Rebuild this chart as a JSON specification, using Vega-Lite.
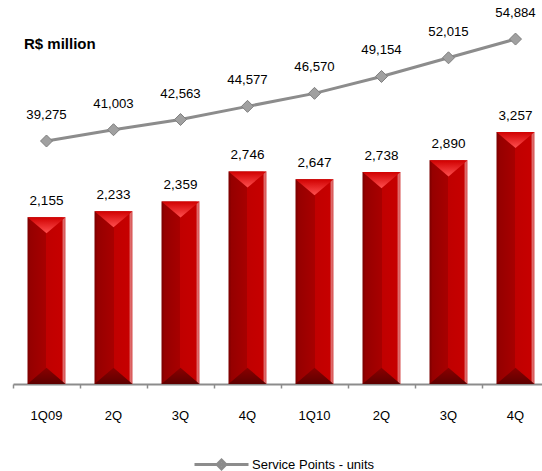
{
  "$schema": "https://vega.github.io/schema/vega-lite/v6.json",
  "autosize": {"type": "none"},
  "padding": {"left": 13, "top": 20, "right": 0, "bottom": 87},
  "width": 529,
  "height": 364,
  "background": "white",
  "title": {
    "text": "R$ million",
    "anchor": "start",
    "frame": "group",
    "orient": "top",
    "font": "Liberation Sans",
    "fontSize": 15,
    "fontWeight": "bold",
    "color": "#000000",
    "baseline": "alphabetic",
    "offset": 0,
    "dx": 11,
    "dy": 58
  },
  "config": {
    "view": {"stroke": null},
    "font": "Liberation Sans",
    "legend": {
      "orient": "none",
      "legendX": 180,
      "legendY": 416,
      "padding": 0,
      "labelFont": "Liberation Sans",
      "labelFontSize": 13,
      "labelColor": "#000000",
      "title": null
    }
  },
  "data": {
    "values": [
      {"q": "1Q09", "revenue": 2155, "points": 39275},
      {"q": "2Q09", "revenue": 2233, "points": 41003},
      {"q": "3Q09", "revenue": 2359, "points": 42563},
      {"q": "4Q09", "revenue": 2746, "points": 44577},
      {"q": "1Q10", "revenue": 2647, "points": 46570},
      {"q": "2Q10", "revenue": 2738, "points": 49154},
      {"q": "3Q10", "revenue": 2890, "points": 52015},
      {"q": "4Q10", "revenue": 3257, "points": 54884}
    ]
  },
  "encoding": {
    "x": {
      "field": "q",
      "type": "nominal",
      "sort": null,
      "scale": {"range": [0, 536], "paddingInner": 0, "paddingOuter": 0},
      "axis": {
        "title": null,
        "labelAngle": 0,
        "bandPosition": 0,
        "labelExpr": "datum.value == '1Q09' || datum.value == '1Q10' ? datum.value : slice(datum.value, 0, 2)",
        "labelFont": "Liberation Sans",
        "labelFontSize": 13,
        "labelColor": "#000000",
        "labelPadding": 21,
        "domainColor": "#8c8c8c",
        "domainWidth": 2,
        "tickColor": "#8c8c8c",
        "tickSize": 4,
        "tickWidth": 1.5,
        "grid": false
      }
    }
  },
  "layer": [
    {
      "encoding": {
        "y": {
          "field": "revenue",
          "type": "quantitative",
          "scale": {"domain": [0, 4703], "nice": false, "zero": false},
          "axis": null
        }
      },
      "layer": [
        {
          "mark": {
            "type": "bar",
            "width": {"band": 0.567},
            "color": {
              "gradient": "linear",
              "x1": 0, "x2": 1, "y1": 0, "y2": 0,
              "stops": [
                {"offset": 0, "color": "#7a0000"},
                {"offset": 0.08, "color": "#960000"},
                {"offset": 0.5, "color": "#a80000"},
                {"offset": 0.5, "color": "#c00000"},
                {"offset": 0.9, "color": "#c60000"},
                {"offset": 0.95, "color": "#e07070"},
                {"offset": 1, "color": "#d44a4a"}
              ]
            }
          }
        },
        {
          "mark": {
            "type": "point",
            "shape": "M-1,0L1,0L0,0.85Z",
            "size": 1444,
            "filled": true,
            "opacity": 1,
            "strokeWidth": 0,
            "color": {
              "gradient": "linear",
              "x1": 0, "x2": 0, "y1": 0, "y2": 1,
              "stops": [
                {"offset": 0, "color": "#d00000"},
                {"offset": 1, "color": "#ff5050"}
              ]
            }
          }
        },
        {
          "mark": {
            "type": "point",
            "shape": "M-1,0L1,0L0,-0.85Z",
            "size": 1444,
            "filled": true,
            "opacity": 1,
            "strokeWidth": 0,
            "color": {
              "gradient": "linear",
              "x1": 0, "x2": 0, "y1": 0, "y2": 1,
              "stops": [
                {"offset": 0, "color": "#8a0000"},
                {"offset": 1, "color": "#5e0000"}
              ]
            }
          },
          "encoding": {"y": {"datum": 0, "type": "quantitative"}}
        },
        {
          "mark": {
            "type": "text",
            "baseline": "alphabetic",
            "dy": -12,
            "font": "Liberation Sans",
            "fontSize": 13.5,
            "color": "#000000"
          },
          "encoding": {
            "text": {"field": "revenue", "type": "quantitative", "format": ",d"}
          }
        }
      ]
    },
    {
      "encoding": {
        "y": {
          "field": "points",
          "type": "quantitative",
          "scale": {"domain": [2068, 57802], "nice": false, "zero": false},
          "axis": null
        }
      },
      "layer": [
        {
          "mark": {"type": "line", "strokeWidth": 3},
          "encoding": {
            "color": {
              "datum": "Service Points - units",
              "type": "nominal",
              "scale": {"domain": ["Service Points - units"], "range": ["#8c8c8c"]},
              "legend": {
                "symbolType": "M-1,0H1M0,-0.16L0.16,0L0,0.16L-0.16,0Z",
                "symbolSize": 2916,
                "symbolStrokeWidth": 3,
                "symbolStrokeColor": "#8c8c8c",
                "symbolFillColor": "#a6a6a6",
                "symbolOffset": 0,
                "labelOffset": 2
              }
            }
          }
        },
        {
          "mark": {
            "type": "point",
            "shape": "diamond",
            "size": 144,
            "filled": true,
            "opacity": 1,
            "fill": "#a0a0a0",
            "stroke": "#7f7f7f",
            "strokeWidth": 1
          }
        },
        {
          "mark": {
            "type": "text",
            "baseline": "alphabetic",
            "dy": -22,
            "font": "Liberation Sans",
            "fontSize": 13.2,
            "color": "#000000"
          },
          "encoding": {
            "text": {"field": "points", "type": "quantitative", "format": ",d"}
          }
        }
      ]
    }
  ],
  "resolve": {"scale": {"y": "independent"}}
}
